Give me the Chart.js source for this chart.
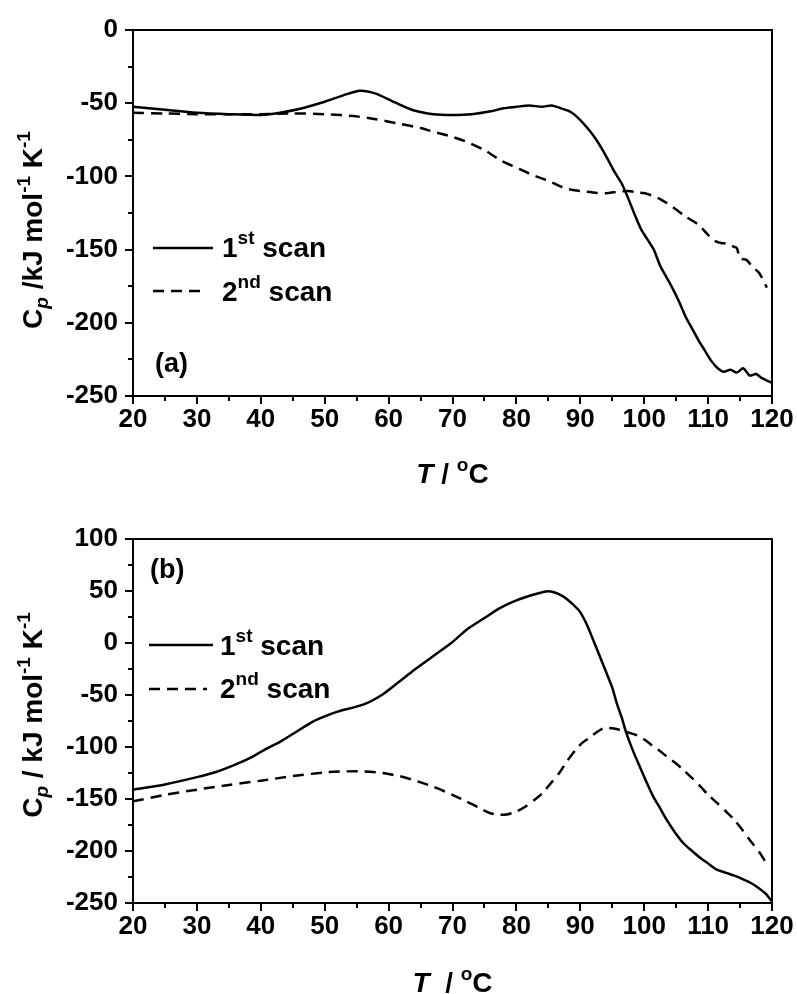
<!DOCTYPE html>
<html lang="en">

<head>
  <meta charset="UTF-8">
  <title>Heat capacity scans</title>
  <script src="https://cdn.jsdelivr.net/npm/chart.js"></script>
  <style>
    body { margin: 0; background: #fff; }
    canvas { position: absolute; left: 0; display: block; }
  </style>
</head>

<body>
  <canvas id="chartA" width="797" height="500" style="top:0"></canvas>
  <canvas id="chartB" width="797" height="494" style="top:500px"></canvas>

  <script>
    // Panel (a): temperature (°C) and Cp (kJ mol-1 K-1)
    const tempA1 = [20, 25, 30, 35, 40, 43, 46, 50, 53, 55.5, 58, 61, 64, 67, 70, 73, 76, 78, 80, 82, 84, 85.5, 87, 88.5, 90, 91.5, 92.5, 93.5, 94.5, 95.5, 96.5, 97.5, 98.5, 99.5, 100.5, 101.5, 102.5, 103.5, 104.5, 105.5, 106.5, 107.5, 108.5, 109.5, 110.5, 111.5, 112.5, 113.5, 114.5, 115.5, 116.5, 117.5, 118.5, 119.5, 120];
    const cpA1 = [-52.4, -54.5, -56.5, -57.5, -58, -56.5, -54, -49, -44.5, -41.5, -43.5, -49.5, -55, -57.5, -58, -57.5, -55.5, -53.5, -52.5, -51.5, -52.5, -51.5, -53.5, -56, -61.5, -69, -75, -82, -90, -98, -105, -115, -126, -136, -143, -150, -161, -169, -177, -186, -196, -204, -212, -219, -226, -231, -233.5, -232, -234, -231, -236, -235, -238, -240, -241];

    const tempA2 = [20, 25, 30, 35, 40, 45, 50, 55, 58, 61.7, 65, 67, 70, 72, 75, 77.5, 80, 82.5, 85, 87.5, 90, 92, 94, 96, 97.5, 99, 100.5, 102.5, 104.5, 106.5, 108.5, 110, 111, 112, 113, 114, 114.5, 115, 116, 117, 118, 119.2];
    const cpA2 = [-56.5, -57, -57.5, -57.5, -57.5, -57, -57.5, -59, -61, -64, -67, -69.5, -73, -76, -82, -89, -94, -99, -103, -108, -110, -111, -111.5, -110.5, -110, -111, -112, -115.5, -121, -127.5, -133, -140, -144, -145.5, -146, -148, -149, -156, -157, -162, -166, -176];

    // Panel (b)
    const tempB1 = [20, 25, 30, 33, 36, 38.5, 40.5, 43, 45, 48, 50, 52, 56, 59, 61.7, 64, 66.9, 70, 72.2, 75, 77.4, 80, 82.6, 84.7, 86, 87.3, 88.5, 89.9, 91, 92, 93, 94.1, 95, 95.7, 96.5, 97.2, 98.2, 99.3, 100.3, 101.4, 102.5, 103.5, 104.8, 106.1, 107.5, 108.8, 110, 111.4, 112.8, 114.1, 115.4, 116.7, 118, 119, 120];
    const cpB1 = [-141, -136, -129, -124, -117, -110, -103, -95, -87.5, -76, -70.5, -66, -59.3, -49.7, -37, -26, -13, 1, 12.8, 24, 33.6, 41, 46.4, 49.6, 48.5, 44.8, 39, 30.4, 18, 3.2, -12, -28.8, -43, -57.7, -72, -86.5, -103, -118.7, -133, -147.5, -159, -169.9, -182, -192.3, -200, -206.7, -212, -218, -221, -223.7, -227, -230.8, -236, -241, -248.5];

    const tempB2 = [20, 25, 30, 35, 40, 45, 50, 53, 56, 59, 61.7, 64, 66.9, 70, 72.2, 74, 75.8, 77, 78.4, 80, 81.5, 83, 84.1, 85.5, 86.7, 88, 89.3, 90.3, 91.4, 92.5, 93.7, 95, 96.1, 97.5, 99.3, 100.3, 101.4, 102.5, 103.5, 104.8, 106.1, 107.5, 108.8, 110, 111.4, 112.8, 114.1, 115.4, 116.7, 118, 119.1];
    const cpB2 = [-152.3, -146, -141, -136.5, -132.4, -128, -124.4, -123.5, -123.4, -125, -128, -132, -138, -146, -152.3, -158, -163.5, -165, -165, -162, -157, -150, -144.2, -134, -125, -113, -102.6, -96, -91.3, -86, -81.8, -82, -83.4, -86, -89.8, -94, -99.4, -104, -109, -115, -121.8, -130, -137.9, -146, -153.8, -162, -169.9, -180, -190.8, -201, -211.5];

    const seriesNames = ['scan', 'scan'];
    const FAMILY = '"Liberation Sans", Arial, Helvetica, sans-serif';
    const BIG = 'bold 28px ' + FAMILY;
    const BIG_IT = 'italic bold 28px ' + FAMILY;
    const SMALL = 'bold 19px ' + FAMILY;
    const SMALL_IT = 'italic bold 19px ' + FAMILY;
    const TAG = 'bold 27px ' + FAMILY;
    const DASH = [11, 7];

    function toPoints(xs, ys) {
      return xs.map((x, i) => ({ x: x, y: ys[i] }));
    }

    // draw a run of text pieces with different fonts / offsets
    function drawParts(ctx, x, y, parts) {
      let cx = x;
      parts.forEach(p => {
        ctx.font = p.f;
        ctx.fillText(p.t, cx, y + (p.dy || 0));
        cx += ctx.measureText(p.t).width;
      });
      return cx;
    }

    function partsWidth(ctx, parts) {
      let w = 0;
      parts.forEach(p => { ctx.font = p.f; w += ctx.measureText(p.t).width; });
      return w;
    }

    // frame, minor ticks, axis titles, legend and panel tag
    function decorPlugin(o) {
      return {
        id: 'decor',
        afterDraw(chart) {
          const ctx = chart.ctx;
          const a = chart.chartArea;
          const xs = chart.scales.x, ys = chart.scales.y;
          ctx.save();
          ctx.strokeStyle = '#000';
          ctx.fillStyle = '#000';
          ctx.lineWidth = 2;
          ctx.strokeRect(a.left, a.top, a.right - a.left, a.bottom - a.top);

          // minor ticks
          ctx.beginPath();
          for (let v = xs.min + 5; v < xs.max; v += 10) {
            const px = Math.round(xs.getPixelForValue(v));
            ctx.moveTo(px, a.bottom);
            ctx.lineTo(px, a.bottom + 5);
          }
          for (let v = ys.min + 25; v < ys.max; v += 50) {
            const py = Math.round(ys.getPixelForValue(v));
            ctx.moveTo(a.left, py);
            ctx.lineTo(a.left - 5, py);
          }
          ctx.stroke();

          ctx.textBaseline = 'alphabetic';
          ctx.textAlign = 'left';

          // x title
          const xt = [{ t: 'T', f: BIG_IT }, { t: o.xSep, f: BIG }, { t: 'o', f: SMALL, dy: -12 }, { t: 'C', f: BIG }];
          const xw = partsWidth(ctx, xt);
          drawParts(ctx, (a.left + a.right) / 2 - xw / 2, o.xTitleY, xt);

          // y title, rotated
          const yt = [{ t: 'C', f: BIG }, { t: 'p', f: SMALL_IT, dy: 6 }, { t: o.ySep + 'kJ mol', f: BIG },
            { t: '-1', f: SMALL, dy: -12 }, { t: ' K', f: BIG }, { t: '-1', f: SMALL, dy: -12 }];
          const yw = partsWidth(ctx, yt);
          ctx.save();
          ctx.translate(42, o.yTitleY);
          ctx.rotate(-Math.PI / 2);
          drawParts(ctx, -yw / 2, 0, yt);
          ctx.restore();

          // legend
          const sups = ['st', 'nd'];
          o.legend.forEach((row, i) => {
            const ds = chart.data.datasets[i];
            ctx.save();
            ctx.lineWidth = ds.borderWidth;
            ctx.setLineDash(ds.borderDash || []);
            ctx.beginPath();
            ctx.moveTo(row.x0, row.y);
            ctx.lineTo(row.x1, row.y);
            ctx.stroke();
            ctx.restore();
            drawParts(ctx, row.tx, row.ty, [{ t: String(i + 1), f: BIG }, { t: sups[i], f: SMALL, dy: -13 },
              { t: ' ' + seriesNames[i], f: BIG }]);
          });

          ctx.font = TAG;
          ctx.fillText(o.tag, o.tagX, o.tagY);
          ctx.restore();
        }
      };
    }

    function makeChart(id, s1, s2, yMin, yMax, pad, xHeight, deco) {
      const tickFont = { family: FAMILY, size: 26, weight: 'bold' };
      return new Chart(document.getElementById(id), {
        type: 'line',
        data: {
          datasets: [
            { data: s1, borderColor: '#000', borderWidth: 2.5, pointRadius: 0, tension: 0.25 },
            { data: s2, borderColor: '#000', borderWidth: 2.5, borderDash: DASH, pointRadius: 0, tension: 0.25 }
          ]
        },
        options: {
          responsive: false,
          animation: false,
          events: [],
          layout: { padding: pad },
          plugins: { legend: { display: false }, tooltip: { enabled: false } },
          scales: {
            x: {
              type: 'linear', min: 20, max: 120,
              ticks: { stepSize: 10, color: '#000', font: tickFont, padding: 0, maxRotation: 0 },
              grid: { drawOnChartArea: false, tickLength: 8, color: '#000', lineWidth: 2 },
              border: { color: '#000', width: 2 },
              afterFit: (scale) => { scale.height = xHeight; }
            },
            y: {
              min: yMin, max: yMax,
              ticks: { stepSize: 50, color: '#000', font: tickFont, padding: 7 },
              grid: { drawOnChartArea: false, tickLength: 8, color: '#000', lineWidth: 2 },
              border: { color: '#000', width: 2 },
              afterFit: (scale) => { scale.width = 133; }
            }
          }
        },
        plugins: [decorPlugin(deco)]
      });
    }

    makeChart('chartA', toPoints(tempA1, cpA1), toPoints(tempA2, cpA2), -250, 0,
      { top: 30, right: 25, bottom: 0, left: 0 }, 104, {
        xSep: ' / ', ySep: ' /', xTitleY: 483, yTitleY: 230,
        legend: [
          { x0: 153, x1: 213, y: 248, tx: 222, ty: 257 },
          { x0: 153, x1: 207, y: 291, tx: 222, ty: 301 }
        ],
        tag: '(a)', tagX: 155, tagY: 372
      });

    makeChart('chartB', toPoints(tempB1, cpB1), toPoints(tempB2, cpB2), -250, 100,
      { top: 39, right: 25, bottom: 0, left: 0 }, 91, {
        xSep: '  / ', ySep: ' / ', xTitleY: 492, yTitleY: 215,
        legend: [
          { x0: 149, x1: 213, y: 145, tx: 220, ty: 155 },
          { x0: 149, x1: 207, y: 189, tx: 220, ty: 198 }
        ],
        tag: '(b)', tagX: 150, tagY: 78
      });
  </script>
</body>

</html>
